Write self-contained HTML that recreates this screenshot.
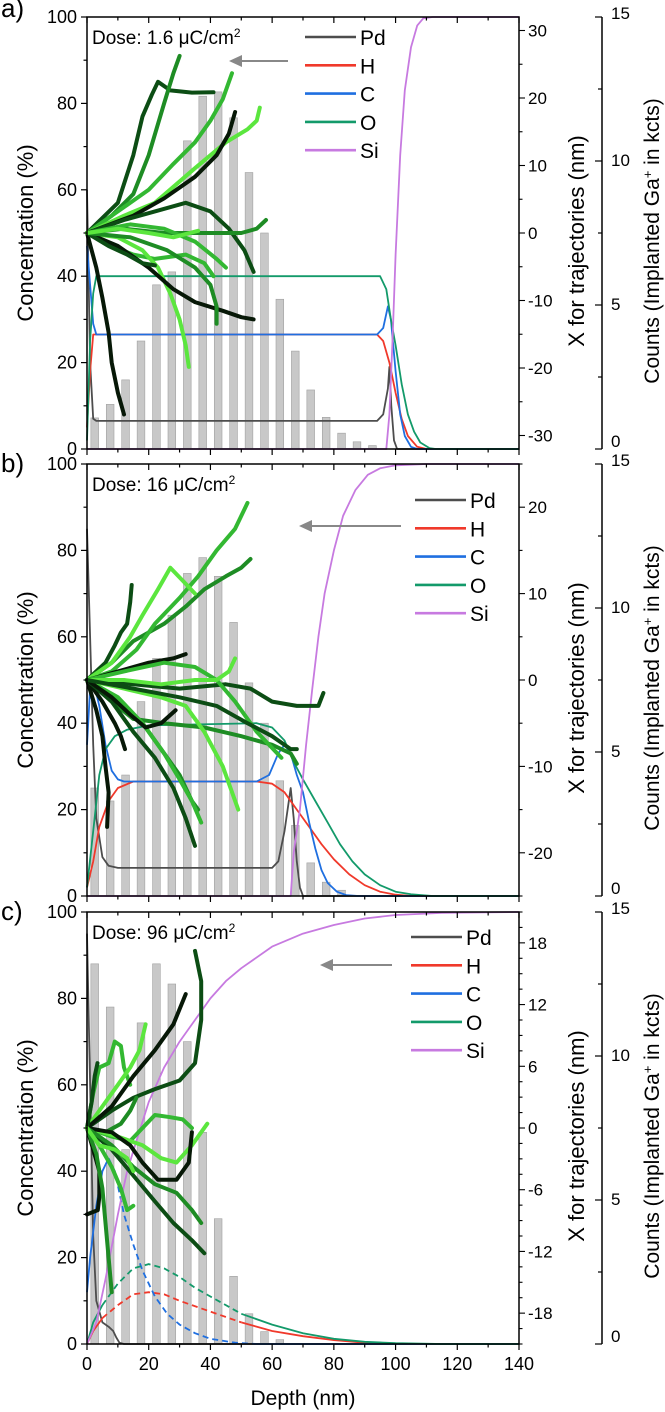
<!DOCTYPE html>
<html><head><meta charset="utf-8">
<style>
html,body{margin:0;padding:0;background:#fff;}
svg{display:block;font-family:"Liberation Sans",Arial,sans-serif;}
</style></head>
<body>
<svg id="fig" width="665" height="1412" viewBox="0 0 665 1412" xmlns="http://www.w3.org/2000/svg"></svg>
<script>
// ---------- data ----------
const depthTicks = [0,20,40,60,80,100,120,140];
const concTicks = [0,20,40,60,80,100];
const countTicks = [0,5,10,15];
const doseLabels = ["Dose: 1.6 \u03bcC/cm", "Dose: 16 \u03bcC/cm", "Dose: 96 \u03bcC/cm"];
const panelLetters = ["a)","b)","c)"];
const trajRanges = [32,25,21];
const trajTicksA = [30,20,10,0,-10,-20,-30];
const trajTicksB = [20,10,0,-10,-20];
const trajTicksC = [18,12,6,0,-6,-12,-18];
const barCentersA = [2.5,7.5,12.5,17.5,22.5,27.5,32.5,37.5,42.5,47.5,52.5,57.5,62.5,67.5,72.5,77.5,82.5,87.5,92.5];
const barCountsA = [1.08,1.55,2.4,3.75,5.7,6.15,10.7,12.25,12.4,11.5,9.6,7.5,5.2,3.4,2.05,1.1,0.55,0.25,0.12];
const barCentersB = [2.5,7.5,12.5,17.5,22.5,27.5,32.5,37.5,42.5,47.5,52.5,57.5,62.5,67.5,72.5,77.5,82.5];
const barCountsB = [3.75,3.3,4.2,6.75,8.25,9.75,11.2,11.75,11.1,9.5,7.4,6.0,4.0,2.45,1.15,0.48,0.2];
const barCentersC = [2.5,7.5,12.5,17.5,22.5,27.5,32.5,37.5,42.5,47.5,52.5,57.5,62.5];
const barCountsC = [13.2,11.7,6.75,11.15,13.2,12.5,10.5,7.35,4.35,2.35,1.05,0.43,0.15];

// concentration curves [depth, %]
const pdA=[[0,60],[1,20],[2,7],[3,6.5],[94,6.5],[96,8],[97.5,14],[98,19],[98.6,10],[99.5,2],[100.5,0],[140,0]];
const hA=[[0,5],[1,18],[2,26.5],[94,26.5],[96,25],[98,20],[100,13],[102,7],[104,3],[107,0.5],[110,0],[140,0]];
const cA=[[0,47],[1,38],[2,29],[3,26.5],[94,26.5],[96,28],[97.5,33],[98.5,30],[100,18],[101.5,8],[103,3],[105,0.5],[107,0],[140,0]];
const oA=[[0,2],[1,25],[2,36],[3,40],[95,40],[97,37],[98.5,30],[100,24],[102,15],[104,8],[106,4],[108,1.5],[111,0.2],[113,0],[140,0]];
const siA=[[0,0],[97,0],[98,8],[99,25],[100,45],[101.5,68],[103,83],[105,93],[107,98],[109,99.7],[112,100],[140,100]];

const pdB=[[0,85],[1,60],[2,35],[3,18],[5,9],[7,7],[10,6.5],[60,6.5],[62,8],[64,15],[66,25],[67,18],[68,8],[69,2],[70,0],[140,0]];
const hB=[[0,2],[2,8],[4,16],[7,22],[10,25],[15,26.5],[55,26.5],[60,26],[64,24],[68,20],[72,16],[76,12],[80,8.5],[85,5],[90,2.5],[95,1],[100,0.3],[105,0],[140,0]];
const cB=[[0,35],[1,48],[2,50],[4,44],[6,35],[8,29],[10,27],[12,26.5],[55,26.5],[59,28],[62,33],[64,35],[66,33],[68,28],[70,24],[72,17],[74,11],[76,6],[78,3],[81,1],[84,0.2],[88,0],[140,0]];
const oB=[[0,2],[2,15],[4,28],[6,34],[9,37],[13,38.5],[20,39.5],[55,40],[60,39],[64,36],[67,31],[70,27],[74,22],[78,17],[82,12],[86,8],[90,5],[95,2.5],[100,1],[105,0.4],[112,0],[140,0]];
const siB=[[0,0],[66,0],[67,10],[69,20],[71,35],[73,48],[75,60],[77,70],[80,80],[83,88],[87,94],[91,97.5],[95,99],[100,99.7],[110,100],[140,100]];

const pdC=[[0,95],[1,60],[2,25],[3,10],[5,5],[7,4],[8.5,3],[9.5,1.5],[10.5,0.3],[12,0],[140,0]];
const hC=[[0,0],[2,3],[5,6],[10,9],[15,11.5],[20,12],[25,11.5],[30,10],[40,7.5],[50,5],[60,3],[70,1.8],[80,0.9],[90,0.3],[100,0.1],[110,0],[140,0]];
const cC=[[0,12],[1,20],[3,32],[5,40],[7,43],[9,40],[12,30],[15,23],[18,17],[22,11],[26,7],[30,4.5],[35,2.5],[40,1.2],[48,0.3],[55,0],[140,0]];
const oC=[[0,0],[2,5],[5,9],[10,14],[15,17.5],[20,18.5],[25,17.5],[30,15.5],[35,13],[40,11],[50,7],[60,4.5],[70,2.5],[80,1.2],[90,0.5],[100,0.2],[115,0],[140,0]];
const siC=[[0,0],[3,5],[6,15],[10,30],[13,40],[16,47],[20,56],[25,64],[30,70],[35,75],[40,80],[45,84],[50,87],[60,92],[70,95],[80,97],[90,98.5],[100,99.3],[115,99.8],[140,100]];

// trajectories [depth(nm), %-equivalent position] converted to X(nm)
function pc(arr,r){return arr.map(p=>[p[0],(p[1]-50)*r/50]);}
const trajA=[
 [[0,50],[3,42],[5,35],[7,27],[8,20],[10,13],[12,8]],
 [[0,50],[10,57],[15,68],[18,77],[21,82],[23,85],[27,83],[34,82.5],[41,82.6]],
 [[0,50],[8,54],[15,59],[20,68],[25,80],[28,87],[30,91]],
 [[0,50],[10,55],[20,60],[28,66],[35,71],[40,76],[44,81],[47,87]],
 [[0,50],[12,54],[22,57],[35,65],[45,71],[52,74],[55,76],[56,79]],
 [[0,50],[15,54],[25,58],[35,63],[42,68],[46,73],[48,78]],
 [[0,50],[12,53],[22,55],[32,57],[40,55],[46,51],[51,46],[54,41]],
 [[0,50],[12,51],[25,50],[38,50],[50,50],[55,51],[58,53]],
 [[0,50],[8,47],[15,45],[22,44],[32,45],[38,43],[41,40]],
 [[0,50],[10,49],[18,46],[23,42],[27,36],[30,30],[32,24],[33,19]],
 [[0,50],[10,47],[20,42],[28,37],[35,34],[44,32],[50,30.5],[54,30]],
 [[0,50],[7,47],[13,45],[18,43],[22,42.5]],
 [[0,50],[14,49],[26,46],[35,42],[40,38],[42,33],[42,29]],
 [[0,50],[14,52],[25,51],[35,48],[42,44],[45,42]],
 [[0,50],[10,51],[20,50],[28,49],[36,50.5]]
];
const trajB=[
 [[0,50],[3,43],[5,37],[6,30],[7,24],[6.5,16]],
 [[0,50],[6,54],[9,58],[11,61],[13,63],[14,68],[14.5,72]],
 [[0,50],[8,54],[15,59],[25,63],[32,67],[38,71],[45,74],[50,76],[53,78]],
 [[0,50],[8,52],[16,57],[22,63],[30,69],[36,74],[42,80],[48,85],[52,91]],
 [[0,50],[8,54],[14,60],[18,65],[23,71],[27,76],[31,73],[35,70]],
 [[0,50],[10,52],[20,54],[28,55],[32,56]],
 [[0,50],[15,49],[30,48],[45,49],[53,48],[60,45],[68,44],[75,44],[76.6,47]],
 [[0,50],[8,45],[15,41],[25,40],[38,39],[50,37],[60,35],[66,33],[68,30.6]],
 [[0,50],[12,52],[25,54],[35,53],[42,50],[48,45],[55,38],[63,32]],
 [[0,50],[12,50],[24,49],[35,50],[42,50],[46,52],[48,55]],
 [[0,50],[5,45],[9,40],[11,37],[12.3,34]],
 [[0,50],[8,45],[15,38],[22,32],[28,25],[32,18],[35,11.6]],
 [[0,50],[10,45],[18,40],[24,34],[30,28],[34,22],[36,20]],
 [[0,50],[10,46],[18,40],[25,33],[30,27],[34,22],[37,17]],
 [[0,50],[12,48],[24,46],[32,44],[38,38],[44,30],[49,20]],
 [[0,50],[8,46],[14,42],[19,39],[24,40],[28.7,43]],
 [[0,50],[15,48],[30,46],[42,44],[52,40],[60,37],[66,34],[68,34]]
];
const trajC=[
 [[0,50],[2,45],[4,40],[4,34],[3.5,31],[0,30]],
 [[0,50],[8,54],[15,57],[22,59],[30,61],[35,65],[37,75],[37,84],[35,91]],
 [[0,50],[3,44],[5,36],[6,28],[7,20],[8,12]],
 [[0,50],[2,58],[4,64],[7,65],[9,70],[11,69],[12,64],[14,60]],
 [[0,50],[5,55],[10,60],[14,64],[17,68],[19,74]],
 [[0,50],[8,55],[15,62],[22,68],[28,74],[32,81]],
 [[0,50],[1.5,56],[2.5,62],[3.4,65]],
 [[0,50],[6,49],[11,51],[14,54],[16,57]],
 [[0,50],[8,48],[14,47],[18,50],[22,53],[27,52.5],[31,52],[34,50]],
 [[0,50],[10,48],[18,46],[24,43],[29,42],[34,46],[39,51]],
 [[0,50],[8,49],[14,46],[18,42],[23,38],[29,38],[33,42],[34,49]],
 [[0,50],[8,45],[15,39],[22,33],[28,28],[34,24],[38,21]],
 [[0,50],[8,46],[15,41],[22,37],[29,35],[34,31],[37,28]],
 [[0,50],[4,46],[8,41],[11,36],[13,31],[15,32]],
 [[0,50],[4,46],[9,45],[13,43],[15,40]]
];
const trajColors=["#071807","#0c4d14","#1e8c24","#33b832","#5be63e"];

// ---------- drawing ----------
const svg=document.getElementById('fig');
const NS='http://www.w3.org/2000/svg';
function mk(tag,attrs,parent){const e=document.createElementNS(NS,tag);for(const k in attrs)e.setAttribute(k,attrs[k]);(parent||svg).appendChild(e);return e;}
const X0=87,X1=519,H=432,CX=602;
const tops=[17,464,912];
function xs(d){return X0+d*(X1-X0)/140;}

const panels=[
 {bars:[barCentersA,barCountsA],curves:[pdA,hA,cA,oA,siA],traj:trajA,tt:trajTicksA,tminor:5,legY:37,legX:305,arrow:[288,229,61]},
 {bars:[barCentersB,barCountsB],curves:[pdB,hB,cB,oB,siB],traj:trajB,tt:trajTicksB,tminor:5,legY:500,legX:415,arrow:[401,299,526]},
 {bars:[barCentersC,barCountsC],curves:[pdC,hC,cC,oC,siC],traj:trajC,tt:trajTicksC,tminor:1.5,legY:937,legX:411,arrow:[392,320,965]}
];
const names=["Pd","H","C","O","Si"];
const cols=["#4d4d4d","#f0392b","#1f6fe0","#139a6a","#c77ae0"];

panels.forEach((P,i)=>{
 const top=tops[i],bot=top+H;
 const ys=p=>top+(100-p)*H/100;
 const yc=c=>bot-c*H/15;
 const R=trajRanges[i];
 const yt=t=>top+H/2-t*(H/2)/R;
 const toPts=a=>a.map(p=>xs(p[0]).toFixed(1)+','+ys(p[1]).toFixed(1)).join(' ');
 const g=mk('g',{});
 
 
 // bars
 const bc=P.bars[0],bv=P.bars[1];
 bc.forEach((d,k)=>{
  const w=xs(2.5)-xs(0);
  const r=mk('rect',{x:xs(d)-w/2,y:yc(bv[k]),width:w,height:bot-yc(bv[k]),fill:'#c8c8c8',stroke:'#a0a0a0','stroke-width':0.6},g);
  
  
 });
 // concentration curves
 P.curves.forEach((c,k)=>{
  if(i===2&&(k===1||k===2||k===3)){
   const cut=k===2?7:3, end=k===2?55:45;
   let a=c.findIndex(p=>p[0]>=cut); let b=c.findIndex(p=>p[0]>=end);
   const segs=[[c.slice(0,a+1),null],[c.slice(a,b+1),'6,4'],[c.slice(b),null]];
   segs.forEach(s=>{
    const pl=mk('polyline',{points:toPts(s[0]),fill:'none',stroke:cols[k],'stroke-width':1.8},g);
    if(s[1])pl.setAttribute('stroke-dasharray',s[1]);
    
    
   });
  } else {
   const pl=mk('polyline',{points:toPts(c),fill:'none',stroke:cols[k],'stroke-width':1.8,'stroke-linejoin':'round'},g);
   
   
  }
 });
 // trajectories
 P.traj.forEach((t,k)=>{
  const tr=pc(t,R);
  const pl=mk('polyline',{points:tr.map(p=>xs(p[0]).toFixed(1)+','+yt(p[1]).toFixed(1)).join(' '),fill:'none',stroke:trajColors[k%5],'stroke-width':4,'stroke-linejoin':'round','stroke-linecap':'round'},g);
  
  
 });
 // frame
 const fr=mk('rect',{x:X0,y:top,width:X1-X0,height:H,fill:'none',stroke:'#000','stroke-width':1.5},g);
 
 
 for(let d=0;d<=140;d+=10){
  const maj=d%20===0,L=maj?6:3.5;
  mk('line',{x1:xs(d),x2:xs(d),y1:top,y2:top+L,stroke:'#000','stroke-width':1.2},g);
  mk('line',{x1:xs(d),x2:xs(d),y1:bot,y2:bot+L,stroke:'#000','stroke-width':1.2},g);
 }
 if(i===2){
  depthTicks.forEach(d=>{
   const t=mk('text',{x:xs(d),y:bot+26,'font-size':18,'text-anchor':'middle'},g);
   t.textContent=d;
   
   
  });
 }
 for(let p=0;p<=100;p+=10){
  const maj=p%20===0;
  mk('line',{x1:X0,x2:X0-(maj?6:3.5),y1:ys(p),y2:ys(p),stroke:'#000','stroke-width':1.2},g);
 }
 concTicks.forEach(p=>{
  const t=mk('text',{x:77,y:ys(p)+6,'font-size':18,'text-anchor':'end'},g);
  t.textContent=p;
  
  
 });
 for(let v=-Math.floor(R/P.tminor)*P.tminor;v<=R;v+=P.tminor){
  const maj=P.tt.indexOf(Math.round(v*10)/10)>=0;
  mk('line',{x1:X1,x2:X1+(maj?6:3.5),y1:yt(v),y2:yt(v),stroke:'#000','stroke-width':1.1},g);
 }
 P.tt.forEach(v=>{
  const t=mk('text',{x:528,y:yt(v)+6,'font-size':17},g);
  t.textContent=v;
  
  
 });
 mk('line',{x1:CX,x2:CX,y1:top,y2:bot,stroke:'#000','stroke-width':1.5},g);
 for(let c=0;c<=15;c+=2.5){
  const maj=c%5===0;
  mk('line',{x1:CX,x2:CX-(maj?7:4),y1:yc(c),y2:yc(c),stroke:'#000','stroke-width':1.2},g);
 }
 countTicks.forEach(c=>{
  const t=mk('text',{x:611,y:yc(c)+(c===15?2:c===0?-2:5),'font-size':17},g);
  t.textContent=c;
  
  
 });
 const cy=top+H/2;
 const at=mk('text',{x:0,y:0,'font-size':22,'text-anchor':'middle',transform:`translate(33,${cy}) rotate(-90)`},g);
 at.textContent='Concentration (%)';
 
 
 const tt=mk('text',{x:0,y:0,'font-size':22,'text-anchor':'middle',transform:`translate(584,${cy+8}) rotate(-90)`},g);
 tt.textContent='X for trajectories (nm)';
 
 
 const ct=mk('text',{x:0,y:0,'font-size':21,'text-anchor':'middle',transform:`translate(659,${cy+8}) rotate(-90)`},g);
 ct.innerHTML='Counts (Implanted Ga<tspan baseline-shift="super" font-size="13">+</tspan> in kcts)';
 
 
 const pl=mk('text',{x:1,y:top+(i===0?0:8),'font-size':26},g);
 pl.textContent=panelLetters[i];
 
 
 const dt=mk('text',{x:92,y:top+27,'font-size':19},g);
 dt.innerHTML=doseLabels[i]+'<tspan baseline-shift="super" font-size="12">2</tspan>';
 
 
 names.forEach((n,k)=>{
  const y=P.legY+k*28.3;
  const ln=mk('line',{x1:P.legX,x2:P.legX+51,y1:y,y2:y,stroke:cols[k],'stroke-width':2.6},g);
  
  
  const lt=mk('text',{x:P.legX+55,y:y+8,'font-size':21},g);
  lt.textContent=n;
  
  
 });
 const [ax1,ax2,ay]=P.arrow;
 const ar=mk('g',{},g);
 
 
 mk('line',{x1:ax1,x2:ax2+10,y1:ay,y2:ay,stroke:'#888','stroke-width':2},ar);
 mk('polygon',{points:`${ax2},${ay} ${ax2+13},${ay-6} ${ax2+13},${ay+6}`,fill:'#888'},ar);
});
const xt=mk('text',{x:303,y:1405,'font-size':21,'text-anchor':'middle'});
xt.textContent='Depth (nm)';


</script>
</body></html>
